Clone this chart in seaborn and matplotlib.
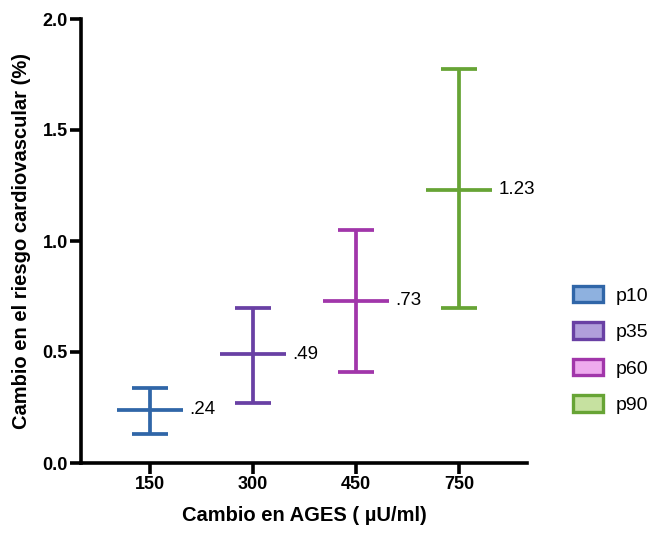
import matplotlib
matplotlib.use("Agg")
import matplotlib.pyplot as plt
import seaborn as sns
import pandas as pd
from matplotlib.patches import Patch

categories = ["150", "300", "450", "750"]
groups = ["p10", "p35", "p60", "p90"]
means = [0.24, 0.49, 0.73, 1.23]
lows = [0.13, 0.27, 0.41, 0.70]
highs = [0.34, 0.70, 1.05, 1.775]
labels = [".24", ".49", ".73", "1.23"]
line_colors = ["#3066a8", "#6940a4", "#a136aa", "#67a435"]
fill_colors = ["#8eb1df", "#b19edb", "#eeaaee", "#c6e1a0"]

sns.set_theme(style="ticks")
plt.rcParams["font.family"] = ["Liberation Sans", "DejaVu Sans"]
plt.rcParams["text.color"] = "black"
plt.rcParams["xtick.color"] = "black"
plt.rcParams["ytick.color"] = "black"
plt.rcParams["axes.labelcolor"] = "black"

df = pd.DataFrame({"pos": range(len(categories)), "mean": means, "group": groups,
                   "low": lows, "high": highs})

fig = plt.figure(figsize=(6.52, 5.33), dpi=100)
ax = fig.add_axes([81/652, 1 - 463/533, (527-81)/652, (463-19)/533])

lw = 2.7
for i, row in df.iterrows():
    ax.errorbar(row["pos"], row["mean"],
                yerr=[[row["mean"] - row["low"]], [row["high"] - row["mean"]]],
                fmt="none", ecolor=line_colors[i], elinewidth=lw,
                capsize=13, capthick=lw, zorder=3)

sns.scatterplot(data=df, x="pos", y="mean", hue="group", palette=line_colors,
                marker="_", s=2256, linewidth=lw, legend=False, ax=ax, zorder=4)

for i, row in df.iterrows():
    ax.annotate(labels[i], (row["pos"], row["mean"]), xytext=(28.5, 0),
                textcoords="offset points", va="center", ha="left",
                fontsize=13.5, color="black")

ax.set_xlim(-0.67, 3.66)
ax.set_ylim(0, 2.0)
ax.set_xticks(range(len(categories)))
ax.set_xticklabels(categories)
ax.set_yticks([0, 0.5, 1.0, 1.5, 2.0])
ax.set_yticklabels(["0.0", "0.5", "1.0", "1.5", "2.0"])
sns.despine(ax=ax)
for s in ["left", "bottom"]:
    ax.spines[s].set_linewidth(2.6)
    ax.spines[s].set_color("black")
ax.tick_params(axis="both", width=2.6, length=8, color="black", labelsize=13,
               pad=1.5)
for t in ax.get_xticklabels() + ax.get_yticklabels():
    t.set_fontweight("bold")

ax.set_xlabel("Cambio en AGES ( µU/ml)", fontsize=14.5, fontweight="bold", labelpad=9)
ax.set_ylabel("Cambio en el riesgo cardiovascular (%)", fontsize=14.5,
              fontweight="bold", labelpad=8)

handles = [Patch(facecolor=fill_colors[i], edgecolor=line_colors[i], linewidth=2.4,
                 label=groups[i]) for i in range(len(groups))]
leg = fig.legend(handles=handles, loc="center left", bbox_to_anchor=(573/652, 1 - 350/533),
                 frameon=False, fontsize=14, handlelength=1.55, handleheight=0.93,
                 labelspacing=0.9, handletextpad=0.62, borderaxespad=0, borderpad=0)

fig.savefig("out.png", dpi=100)
